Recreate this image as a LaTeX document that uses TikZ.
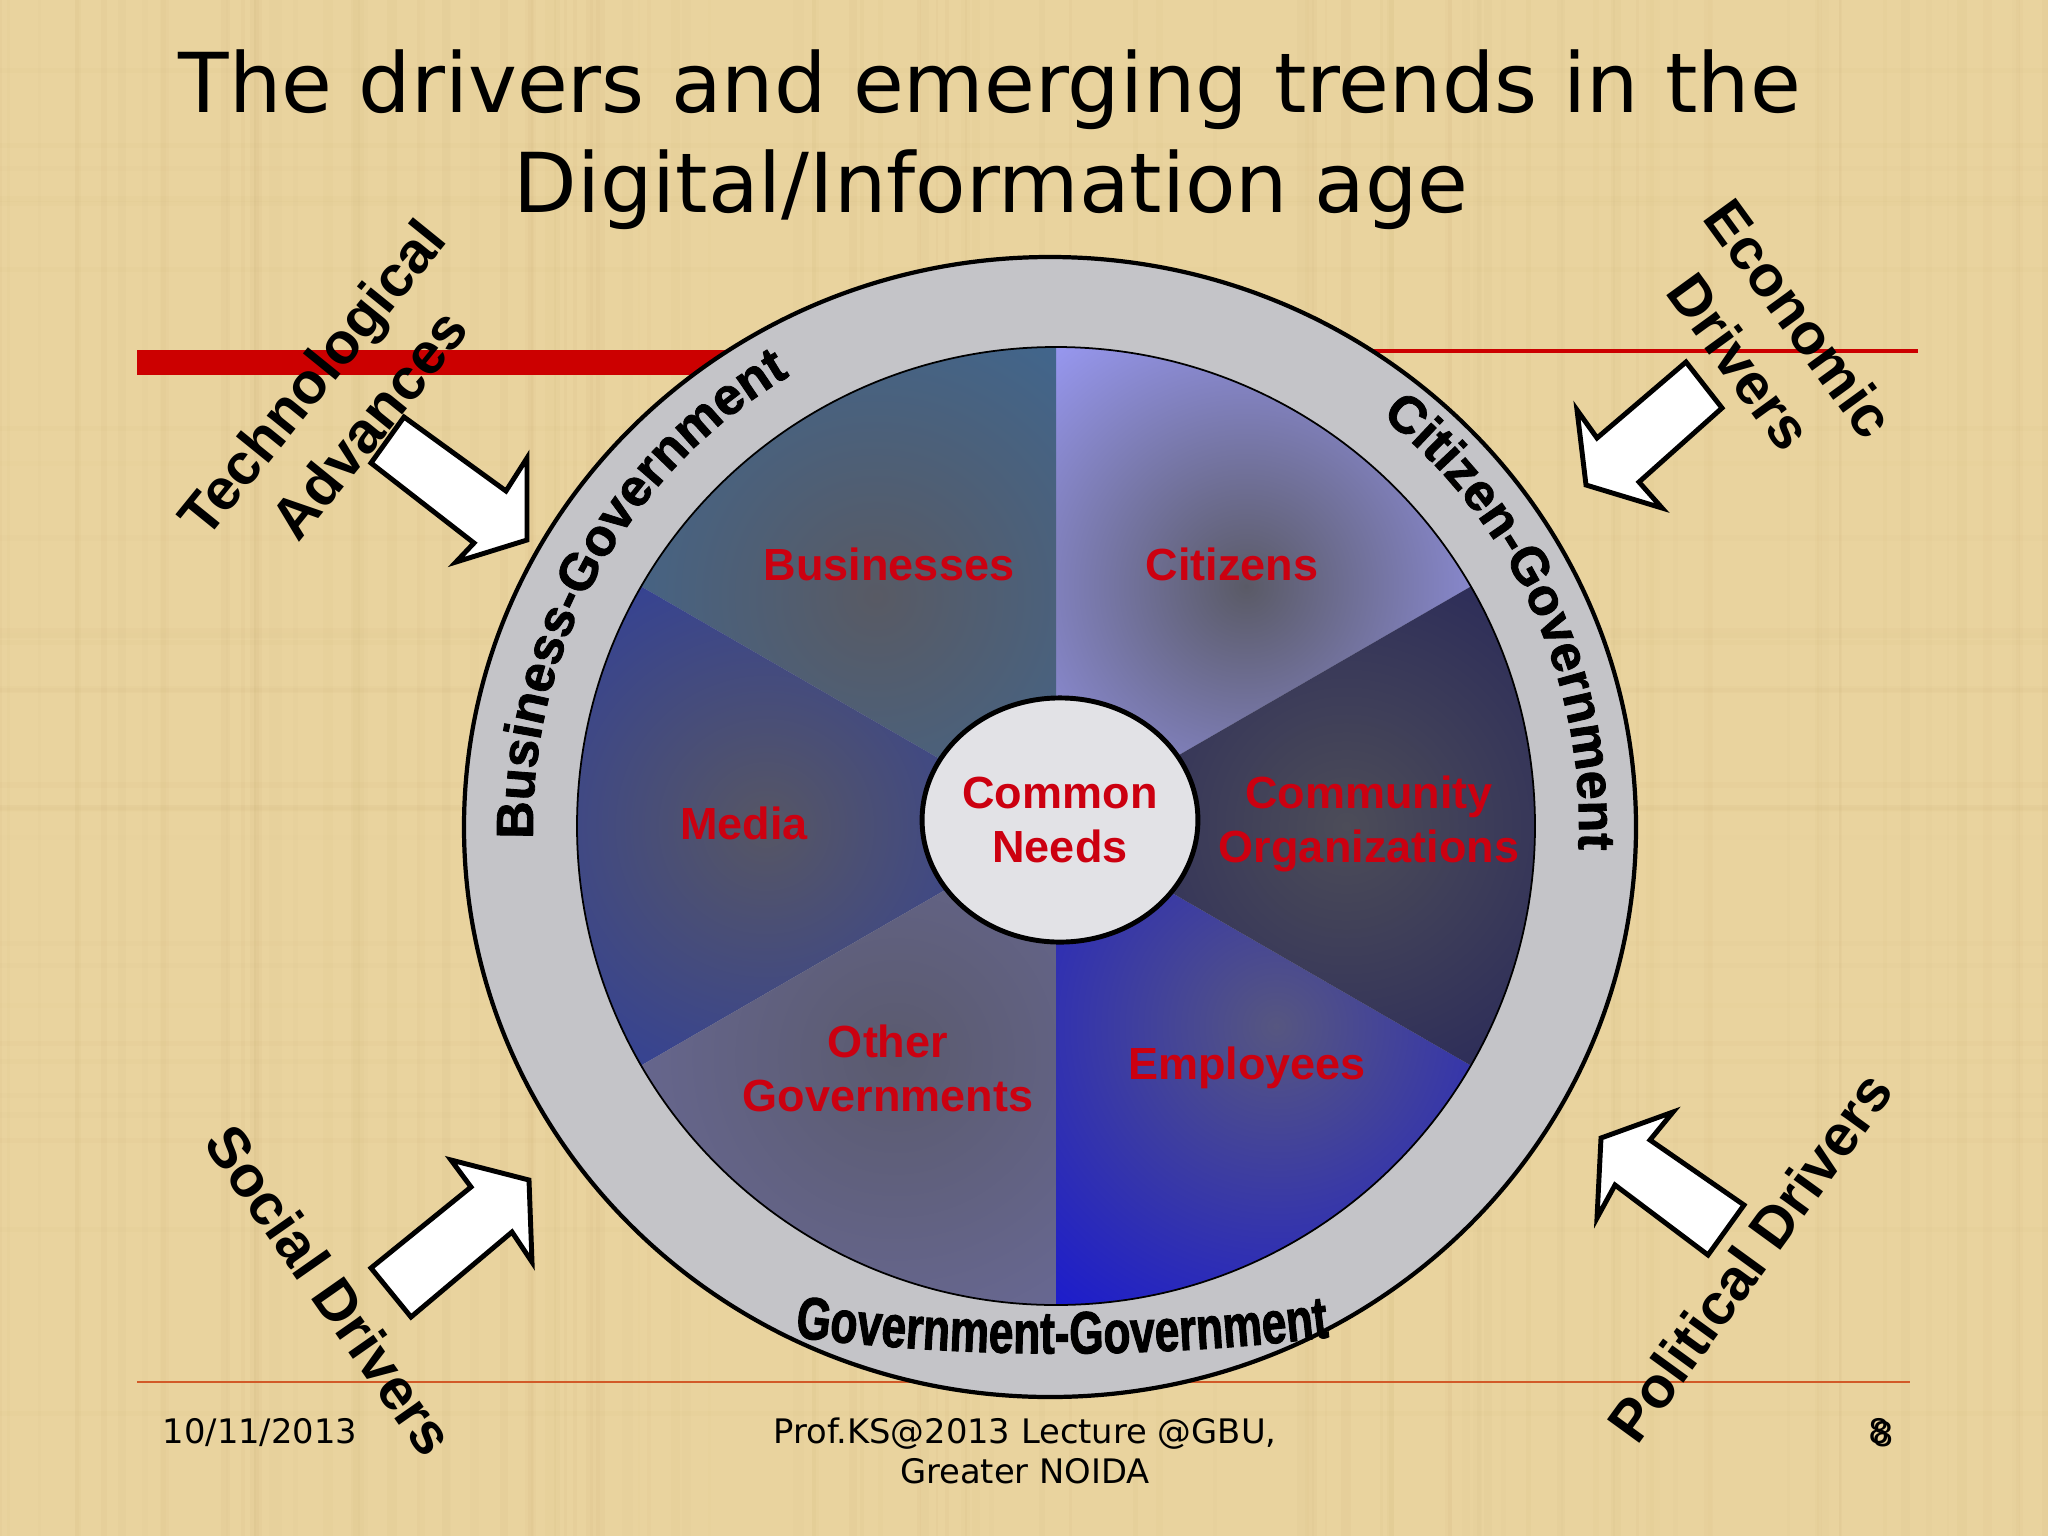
\documentclass[tikz,border=0pt]{standalone}
\usepackage{fontspec}
\setmainfont{DejaVu Sans}
\newfontfamily\arialfont{Liberation Sans}
\newfontfamily\ringbold[FakeBold=1.6]{Liberation Sans Bold}
\newfontfamily\narrowbold[FakeStretch=0.74, FakeBold=1.6]{Liberation Sans Bold}
\usetikzlibrary{shapes.geometric, decorations.text}

\definecolor{parchment}{RGB}{233,211,158}
\definecolor{streak}{RGB}{190,160,100}
\definecolor{labelred}{RGB}{204,0,16}
\definecolor{ringgray}{RGB}{196,196,200}
\definecolor{hubgray}{RGB}{226,226,230}
\definecolor{barred}{RGB}{204,0,0}
\definecolor{footline}{RGB}{210,90,40}
% sector colours: edge / core
\definecolor{citiedge}{RGB}{158,158,255}
\definecolor{citicore}{RGB}{90,90,102}
\definecolor{busiedge}{RGB}{56,106,156}
\definecolor{busicore}{RGB}{88,90,100}
\definecolor{mediaedge}{RGB}{36,56,172}
\definecolor{mediacore}{RGB}{86,86,100}
\definecolor{othgovedge}{RGB}{110,110,162}
\definecolor{othgovcore}{RGB}{90,90,110}
\definecolor{empledge}{RGB}{16,16,220}
\definecolor{emplcore}{RGB}{86,86,128}
\definecolor{commedge}{RGB}{28,28,90}
\definecolor{commcore}{RGB}{76,76,88}

\newcommand{\ringfont}{\fontsize{14.8}{18}\selectfont\ringbold}
\newcommand{\bottomfont}{\fontsize{17}{20}\selectfont\narrowbold}

\begin{document}
\begin{tikzpicture}[
  x=0.01cm, y=0.01cm,
  heading/.style={font=\fontsize{23.5}{28}\selectfont, anchor=base},
  sector/.style={font=\fontsize{12.8}{15.4}\selectfont\arialfont\bfseries,
    text=labelred, align=center},
  hub/.style={ellipse, draw=black, line width=1.4pt, fill=hubgray,
    minimum width=2.7cm, minimum height=2.44cm, inner sep=0pt,
    font=\fontsize{12.8}{15.4}\selectfont\arialfont\bfseries,
    text=labelred, align=center},
  driver/.style={font=\fontsize{16.5}{21}\selectfont\arialfont\bfseries,
    align=center},
  blockarrow/.style={fill=white, draw=black, line width=1.4pt, line join=miter},
  footer/.style={font=\fontsize{9.6}{11.4}\selectfont, anchor=base}
]
  % Background
  \fill[parchment] (0,0) rectangle (2048,-1536);
  \useasboundingbox (0,0) rectangle (2048,-1536);
  \pgfmathsetseed{7}
  \foreach \i in {1,...,110}{
    \pgfmathsetmacro{\sxpos}{2048*rnd}
    \pgfmathsetmacro{\swid}{0.5+2.5*rnd}
    \pgfmathsetmacro{\sop}{0.02+0.05*rnd}
    \draw[streak, line width=\swid pt, opacity=\sop] (\sxpos,0) -- (\sxpos,-1536);
  }
  \foreach \i in {1,...,30}{
    \pgfmathsetmacro{\sypos}{-1536*rnd}
    \pgfmathsetmacro{\sop}{0.015+0.03*rnd}
    \draw[streak, line width=1.5pt, opacity=\sop] (0,\sypos) -- (2048,\sypos);
  }

  % Rules
  \fill[barred] (137,-350) rectangle (760,-375);
  \draw[barred, line width=0.9pt] (1300,-351) -- (1918,-351);
  \draw[footline, line width=0.4pt] (137,-1382) -- (1910,-1382);

  % Title
  \node[heading] (title1) at (990,-112) {The drivers and emerging trends in the};
  \node[heading] (title2) at (991,-212) {Digital/Information age};

  % Ring
  \filldraw[fill=ringgray, draw=black, line width=1.2pt]
    (1050,-827) ellipse [x radius=586, y radius=570];

  \begin{scope}[shift={(1056,-826)}]
    % Sectors
    \foreach \a/\b/\edge/\core/\sx/\sy/\sr in {
      30/90/citiedge/citicore/190/240/340,
      90/150/busiedge/busicore/-180/230/430,
      150/210/mediaedge/mediacore/-290/0/430,
      210/270/othgovedge/othgovcore/-160/-230/430,
      270/330/empledge/emplcore/220/-200/430,
      330/390/commedge/commcore/290/0/430}
    {
      \begin{scope}
        \clip (0,0) -- (\a:479) arc[start angle=\a, end angle=\b, radius=479] -- cycle;
        \shade[inner color=\core, outer color=\edge] (\sx,\sy) circle (\sr);
      \end{scope}
    }
    \draw[line width=0.5pt] (0,0) circle (479);

    % Ring labels
    \path[decorate, decoration={text along path, text align=center,
        text={|\ringfont|Business-Government}}]
      (191:523) arc[start angle=191, end angle=111, radius=523];
    \path[decorate, decoration={text along path, text align=center,
        text={|\ringfont|Citizen-Government}}]
      (64.5:523) arc[start angle=64.5, end angle=-15.5, radius=523];
  \end{scope}
  \path[decorate, decoration={text along path, text align=center,
      text={|\bottomfont|Government-Government}}]
    (770,-1334) .. controls (962,-1360) and (1162,-1360) .. (1354,-1334);

  % Nodes
  \node[hub] (needs) at (1060,-820) {Common\\Needs};
  \node[sector] (busi)    at (889,-564)  {Businesses};
  \node[sector] (citi)    at (1232,-564) {Citizens};
  \node[sector] (media)   at (744,-823)  {Media};
  \node[sector] (commorg) at (1369,-824) {Community\\Organizations};
  \node[sector] (othgov)  at (888,-1068) {Other\\Governments};
  \node[sector] (empl)    at (1247,-1068) {Employees};

  % Driver arrows
  \filldraw[blockarrow] (404,-417) -- (506,-491) -- (527,-458) -- (527,-540)
    -- (456,-562) -- (474,-543) -- (371,-463) -- cycle;
  \filldraw[blockarrow] (1686,-362) -- (1597,-438) -- (1577,-410) -- (1586,-485)
    -- (1662,-508) -- (1639,-482) -- (1722,-408) -- cycle;
  \filldraw[blockarrow] (371,-1268) -- (471,-1187) -- (451,-1160) -- (529,-1180)
    -- (532,-1262) -- (512,-1232) -- (411,-1317) -- cycle;
  \filldraw[blockarrow] (1744,-1205) -- (1650,-1140) -- (1673,-1112) -- (1601,-1138)
    -- (1597,-1218) -- (1615,-1185) -- (1708,-1255) -- cycle;

  % Driver labels
  \node[driver, rotate=51]  (tech)   at (340,-401)   {Technological\\Advances};
  \node[driver, rotate=-54] (econ)   at (1770,-340)  {Economic\\Drivers};
  \node[driver, rotate=-55] (social) at (330,-1290)  {Social Drivers};
  \node[driver, rotate=54]  (polit)  at (1750,-1257) {Political Drivers};

  % Footer
  \node[footer] (date)  at (260,-1443)  {10/11/2013};
  \node[footer] (lect)  at (1025,-1443) {Prof.KS@2013 Lecture @GBU,};
  \node[footer] (place) at (1025,-1483) {Greater NOIDA};
  \node[footer] (page)  at (1879,-1443) {8};
  \node[footer] (pageb) at (1883,-1446) {8};
\end{tikzpicture}
\end{document}
